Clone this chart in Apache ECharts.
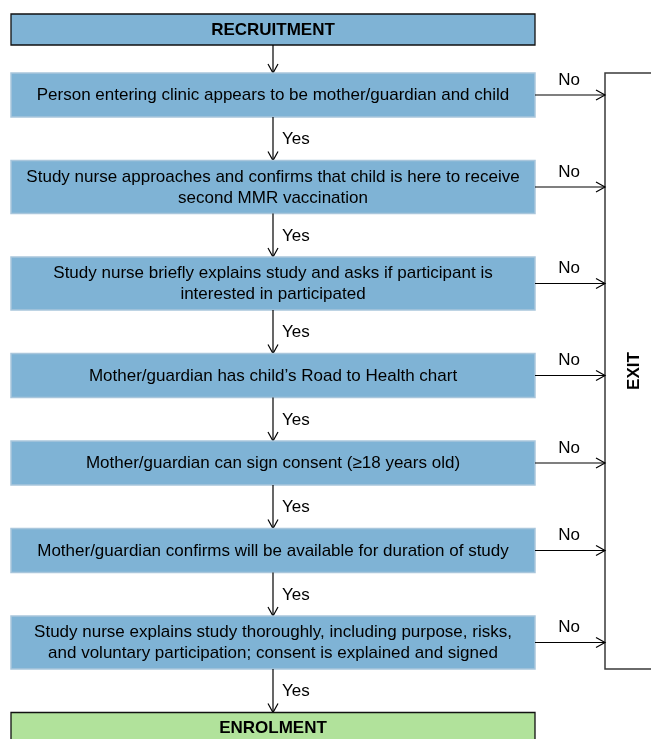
<!DOCTYPE html>
<html><head><meta charset="utf-8">
<script src="https://cdn.jsdelivr.net/npm/echarts@6/dist/echarts.min.js"></script>
<style>html,body{margin:0;padding:0;background:#fff}#c{width:651px;height:739px}</style>
</head><body><div id="c"></div>
<script>
var headerText = 'RECRUITMENT';
var footerText = 'ENROLMENT';
var exitText = 'EXIT';
var steps = [
  'Person entering clinic appears to be mother/guardian and child',
  'Study nurse approaches and confirms that child is here to receive\nsecond MMR vaccination',
  'Study nurse briefly explains study and asks if participant is\ninterested in participated',
  'Mother/guardian has child\u2019s Road to Health chart',
  'Mother/guardian can sign consent (\u226518 years old)',
  'Mother/guardian confirms will be available for duration of study',
  'Study nurse explains study thoroughly, including purpose, risks,\nand voluntary participation; consent is explained and signed'
];
var yesLabel = 'Yes';
var noLabel = 'No';

var chart = echarts.init(document.getElementById('c'), null, {renderer: 'canvas'});
var FONT = '"Liberation Sans", Arial, sans-serif';
var L = 11, R = 535, CX = 273, EXL = 605;
var FILL = '#7fb3d5', BORDER = '#a9c6dc', GREEN = '#b1e29b';
var els = [];

function box(x, y, w, h, fill, stroke, lw) {
  els.push({type: 'rect', shape: {x: x, y: y, width: w, height: h},
    style: {fill: fill, stroke: stroke, lineWidth: lw}});
}
function text(x, y, t, opts) {
  els.push({type: 'text', x: x, y: y, rotation: opts.rot || 0,
    style: {text: t, fill: '#000', font: (opts.bold ? 'bold ' : '') + (opts.size || 17) + 'px ' + FONT,
      align: opts.align || 'center', verticalAlign: 'middle', lineHeight: 21}});
}
function arrowDown(x, y1, y2) {
  els.push({type: 'line', shape: {x1: x, y1: y1, x2: x, y2: y2}, style: {stroke: '#000', lineWidth: 1.2}});
  els.push({type: 'polyline', shape: {points: [[x - 5, y2 - 9], [x, y2], [x + 5, y2 - 9]]}, style: {stroke: '#000', lineWidth: 1.2, fill: null}});
}
function arrowRight(x1, x2, y) {
  els.push({type: 'line', shape: {x1: x1, y1: y, x2: x2, y2: y}, style: {stroke: '#000', lineWidth: 1.2}});
  els.push({type: 'polyline', shape: {points: [[x2 - 9, y - 5], [x2, y], [x2 - 9, y + 5]]}, style: {stroke: '#000', lineWidth: 1.2, fill: null}});
}

// header
box(L, 14, R - L, 31, FILL, '#111', 1.3);
text(CX, 30, headerText, {bold: true});

var y = 73, gap = 43.5;
arrowDown(CX, 45, y);
var lastBottom = 0;
steps.forEach(function (s, i) {
  var lines = s.split('\n').length;
  var h = lines > 1 ? 53 : 44;
  box(L, y, R - L, h, FILL, BORDER, 1.5);
  text(CX, y + h / 2 + 0.5, s, {});
  var cy = y + h / 2;
  arrowRight(R, EXL, cy);
  text(569, cy - 15, noLabel, {});
  var next = y + h + gap;
  arrowDown(CX, y + h, next);
  text(282, y + h + gap / 2 + 1, yesLabel, {align: 'left'});
  lastBottom = y + h;
  y = next;
});

// footer
box(L, y, R - L, 40, GREEN, '#111', 1.3);
text(CX, y + 16, footerText, {bold: true});

// exit
els.push({type: 'rect', shape: {x: EXL, y: 73, width: 60, height: lastBottom - 73},
  style: {fill: '#fff', stroke: '#3a3a3a', lineWidth: 1.5}, z: -1});
text(634, (73 + lastBottom) / 2, exitText, {bold: true, rot: Math.PI / 2});

chart.setOption({animation: false, graphic: {elements: els}});
</script></body></html>
